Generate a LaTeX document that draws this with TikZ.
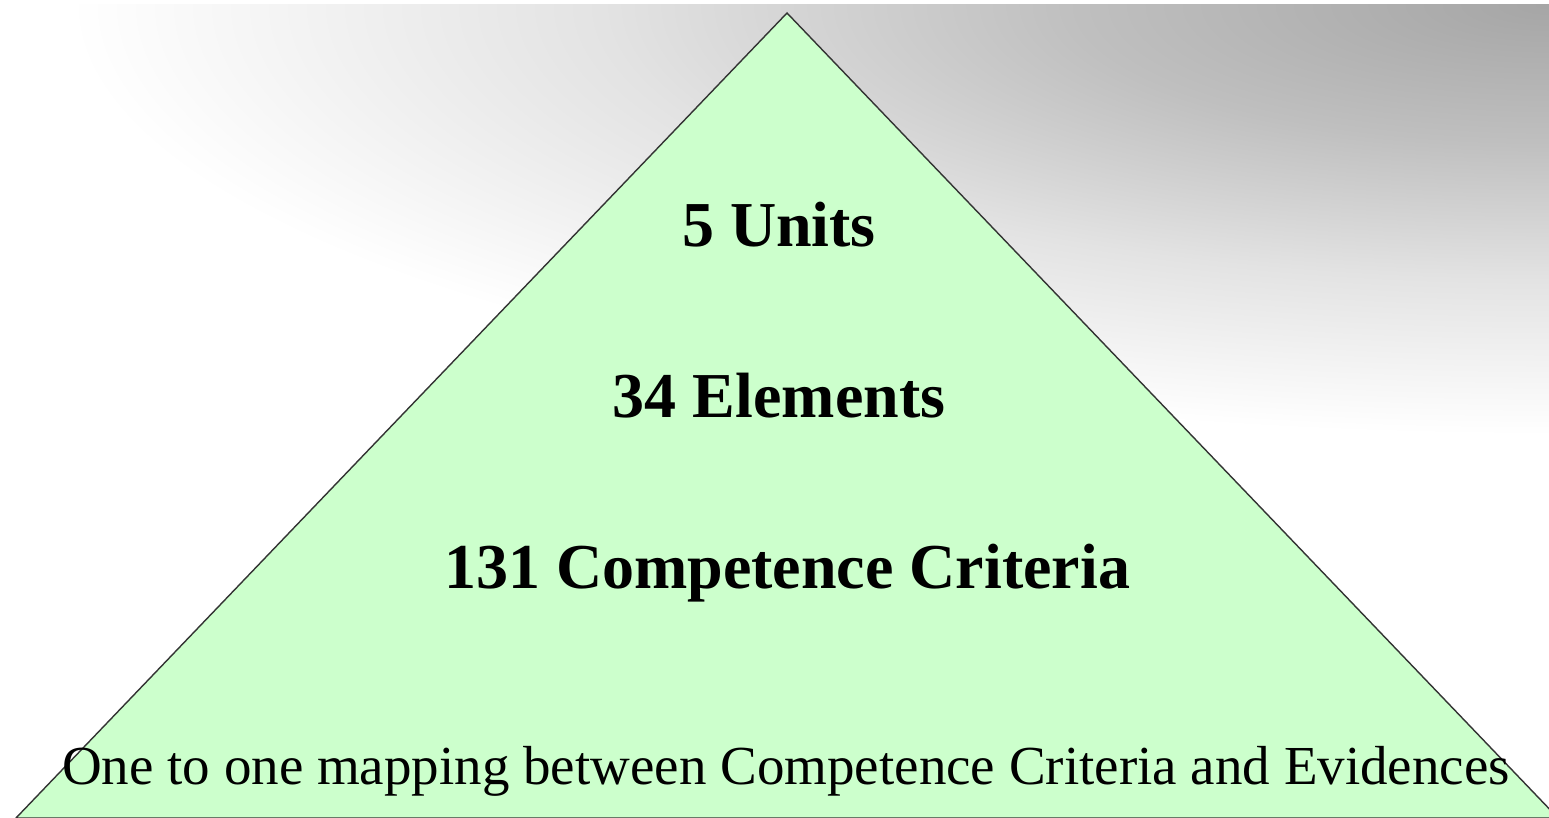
\documentclass[tikz,border=0pt]{standalone}
\usepackage{fontspec}
\setmainfont{Liberation Serif}
\pgfdeclareradialshading{bgshade}{\pgfpoint{0bp}{0bp}}{color(0bp)=(black!35); color(8bp)=(black!25); color(16bp)=(black!11); color(25bp)=(white); color(50bp)=(white)}
\definecolor{pyrgreen}{HTML}{CCFFCC}
\tikzset{
  boldlabel/.style={font=\fontsize{64}{70}\selectfont\bfseries, anchor=base, inner sep=0pt},
  plainlabel/.style={font=\fontsize{55}{60}\selectfont, anchor=base, inner sep=0pt},
  pyramid/.style={fill=pyrgreen, draw=black!80, line width=1.4pt, line join=miter}
}
\begin{document}
\begin{tikzpicture}[x=1pt,y=-1pt]
\useasboundingbox (0,0) rectangle (1549,818);
\fill[white] (0,0) rectangle (1549,818);
\begin{scope}
  \clip (0,5) rectangle (1549,818);
  \shade[shading=bgshade] (1549,5) ellipse [x radius=1480, y radius=430];
\end{scope}
\coordinate (apex) at (787,13);
\coordinate (bl) at (16,818);
\coordinate (br) at (1558,818);
\fill[pyramid] (apex) -- (br) -- (bl) -- cycle;
\node[boldlabel] (units) at (779,247) {5 Units};
\node[boldlabel] (elements) at (779,417) {34 Elements};
\node[boldlabel] (criteria) at (787,588) {131 Competence Criteria};
\node[plainlabel] (mapping) at (786,784) {One to one mapping between Competence Criteria and Evidences};
\end{tikzpicture}
\end{document}
